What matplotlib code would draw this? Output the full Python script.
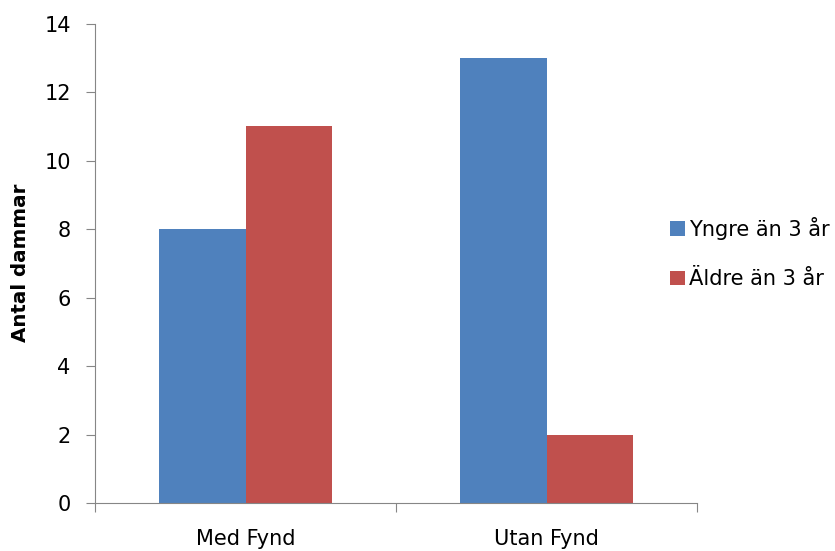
import numpy as np
import matplotlib.pyplot as plt

categories = ["Med Fynd", "Utan Fynd"]
yngre = [8, 13]
aldre = [11, 2]
series_names = ["Yngre än 3 år", "Äldre än 3 år"]

plt.rcParams['font.family'] = ['DejaVu Sans']

fig = plt.figure(figsize=(8.35, 5.51), dpi=100)
ax = fig.add_axes([0.1138, 0.0871, 0.721, 0.8702])

x = np.arange(len(categories)) + 0.5
w = 0.286
ax.bar(x - w / 2, yngre, w, color="#4F81BD", label=series_names[0])
ax.bar(x + w / 2, aldre, w, color="#C0504D", label=series_names[1])

ax.set_xlim(0, 2)
ax.set_ylim(0, 14)
ax.set_yticks(range(0, 15, 2))
ax.set_xticks([0, 1, 2])
ax.set_xticklabels([])
ax.set_xticks(x, minor=True)
ax.set_xticklabels(categories, minor=True)
ax.tick_params(axis='x', which='minor', length=0, labelsize=15, pad=19)
ax.tick_params(axis='x', which='major', length=6.5, color="#868686")
ax.tick_params(axis='y', length=6.5, color="#868686", labelsize=15, pad=11)
for s in ["top", "right"]:
    ax.spines[s].set_visible(False)
for s in ["left", "bottom"]:
    ax.spines[s].set_color("#868686")

ax.set_ylabel("Antal dammar", fontsize=14.3, fontweight="bold", labelpad=10)

ax.legend(loc="center left", bbox_to_anchor=(0.941, 0.521), frameon=False,
          fontsize=15, handlelength=0.72, handleheight=0.72, labelspacing=1.4,
          handletextpad=0.2, borderaxespad=0)

fig.savefig("out.png", dpi=100)
